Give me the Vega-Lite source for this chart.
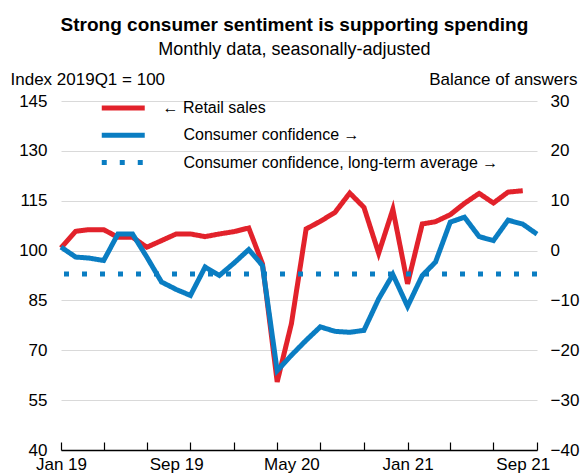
{
  "$schema": "https://vega.github.io/schema/vega-lite/v6.json",
  "width": 476,
  "height": 349,
  "autosize": {"type": "none"},
  "padding": {"left": 61, "top": 101, "right": 48, "bottom": 23},
  "background": "white",
  "config": {
    "font": "Liberation Sans",
    "view": {"stroke": null},
    "axis": {"labelColor": "black", "titleColor": "black", "titleFontWeight": "normal", "labelFont": "Liberation Sans", "titleFont": "Liberation Sans"},
    "legend": {"labelFont": "Liberation Sans", "labelColor": "black"}
  },
  "title": {
    "text": "Strong consumer sentiment is supporting spending",
    "subtitle": "Monthly data, seasonally-adjusted",
    "fontSize": 19,
    "fontWeight": "bold",
    "color": "black",
    "subtitleFontSize": 18,
    "subtitleColor": "black",
    "subtitleFont": "Liberation Sans",
    "subtitlePadding": 6,
    "anchor": "middle",
    "frame": "bounds",
    "offset": 11
  },
  "datasets": {
    "retail": [
      {"date": "2019-01-01", "series": "Retail sales", "value": 100.8},
      {"date": "2019-02-01", "series": "Retail sales", "value": 105.8},
      {"date": "2019-03-01", "series": "Retail sales", "value": 106.3},
      {"date": "2019-04-01", "series": "Retail sales", "value": 106.3},
      {"date": "2019-05-01", "series": "Retail sales", "value": 104},
      {"date": "2019-06-01", "series": "Retail sales", "value": 104},
      {"date": "2019-07-01", "series": "Retail sales", "value": 101},
      {"date": "2019-08-01", "series": "Retail sales", "value": 103},
      {"date": "2019-09-01", "series": "Retail sales", "value": 105},
      {"date": "2019-10-01", "series": "Retail sales", "value": 105},
      {"date": "2019-11-01", "series": "Retail sales", "value": 104.2},
      {"date": "2019-12-01", "series": "Retail sales", "value": 105},
      {"date": "2020-01-01", "series": "Retail sales", "value": 105.7},
      {"date": "2020-02-01", "series": "Retail sales", "value": 106.8},
      {"date": "2020-03-01", "series": "Retail sales", "value": 96},
      {"date": "2020-04-01", "series": "Retail sales", "value": 60.5},
      {"date": "2020-05-01", "series": "Retail sales", "value": 78},
      {"date": "2020-06-01", "series": "Retail sales", "value": 106.5},
      {"date": "2020-07-01", "series": "Retail sales", "value": 108.8},
      {"date": "2020-08-01", "series": "Retail sales", "value": 111.5},
      {"date": "2020-09-01", "series": "Retail sales", "value": 117.3},
      {"date": "2020-10-01", "series": "Retail sales", "value": 113},
      {"date": "2020-11-01", "series": "Retail sales", "value": 99.2},
      {"date": "2020-12-01", "series": "Retail sales", "value": 112.4},
      {"date": "2021-01-01", "series": "Retail sales", "value": 90},
      {"date": "2021-02-01", "series": "Retail sales", "value": 108},
      {"date": "2021-03-01", "series": "Retail sales", "value": 108.7},
      {"date": "2021-04-01", "series": "Retail sales", "value": 110.8},
      {"date": "2021-05-01", "series": "Retail sales", "value": 114.2},
      {"date": "2021-06-01", "series": "Retail sales", "value": 117.2},
      {"date": "2021-07-01", "series": "Retail sales", "value": 114.3},
      {"date": "2021-08-01", "series": "Retail sales", "value": 117.6},
      {"date": "2021-09-01", "series": "Retail sales", "value": 118}
    ],
    "confidence": [
      {"date": "2019-01-01", "series": "Consumer confidence", "value": 0.7},
      {"date": "2019-02-01", "series": "Consumer confidence", "value": -1.3},
      {"date": "2019-03-01", "series": "Consumer confidence", "value": -1.5},
      {"date": "2019-04-01", "series": "Consumer confidence", "value": -2},
      {"date": "2019-05-01", "series": "Consumer confidence", "value": 3.3},
      {"date": "2019-06-01", "series": "Consumer confidence", "value": 3.3},
      {"date": "2019-07-01", "series": "Consumer confidence", "value": -1.3},
      {"date": "2019-08-01", "series": "Consumer confidence", "value": -6.3},
      {"date": "2019-09-01", "series": "Consumer confidence", "value": -7.8},
      {"date": "2019-10-01", "series": "Consumer confidence", "value": -9},
      {"date": "2019-11-01", "series": "Consumer confidence", "value": -3.3},
      {"date": "2019-12-01", "series": "Consumer confidence", "value": -5},
      {"date": "2020-01-01", "series": "Consumer confidence", "value": -2.5},
      {"date": "2020-02-01", "series": "Consumer confidence", "value": 0.2},
      {"date": "2020-03-01", "series": "Consumer confidence", "value": -3},
      {"date": "2020-04-01", "series": "Consumer confidence", "value": -24.1},
      {"date": "2020-05-01", "series": "Consumer confidence", "value": -21},
      {"date": "2020-06-01", "series": "Consumer confidence", "value": -18},
      {"date": "2020-07-01", "series": "Consumer confidence", "value": -15.3},
      {"date": "2020-08-01", "series": "Consumer confidence", "value": -16.2},
      {"date": "2020-09-01", "series": "Consumer confidence", "value": -16.4},
      {"date": "2020-10-01", "series": "Consumer confidence", "value": -16},
      {"date": "2020-11-01", "series": "Consumer confidence", "value": -9.7},
      {"date": "2020-12-01", "series": "Consumer confidence", "value": -4.8},
      {"date": "2021-01-01", "series": "Consumer confidence", "value": -11.2},
      {"date": "2021-02-01", "series": "Consumer confidence", "value": -5},
      {"date": "2021-03-01", "series": "Consumer confidence", "value": -2.3},
      {"date": "2021-04-01", "series": "Consumer confidence", "value": 5.7},
      {"date": "2021-05-01", "series": "Consumer confidence", "value": 6.7},
      {"date": "2021-06-01", "series": "Consumer confidence", "value": 2.8},
      {"date": "2021-07-01", "series": "Consumer confidence", "value": 2},
      {"date": "2021-08-01", "series": "Consumer confidence", "value": 6.1},
      {"date": "2021-09-01", "series": "Consumer confidence", "value": 5.3},
      {"date": "2021-10-01", "series": "Consumer confidence", "value": 3.3}
    ],
    "average": [
      {"series": "Consumer confidence, long-term average", "value": -4.7}
    ]
  },
  "layer": [
    {
      "layer": [
        {
          "mark": {"type": "rule", "color": "black", "strokeWidth": 2.5},
          "encoding": {
            "y": {"datum": 100, "type": "quantitative", "scale": {"domain": [40, 145], "nice": false, "zero": false}}
          }
        },
        {
          "data": {"name": "retail"},
          "mark": {"type": "line", "strokeWidth": 5},
          "encoding": {
            "x": {
              "field": "date", "type": "temporal",
              "scale": {"type": "utc", "domain": [{"year": 2019, "month": 1, "date": 1, "utc": true}, {"year": 2021, "month": 10, "date": 1, "utc": true}]},
              "axis": {
                "orient": "bottom",
                "title": null, "labels": false, "grid": false,
                "ticks": true, "tickSize": -8, "tickColor": "black", "tickWidth": 1.2,
                "domain": true, "domainColor": "black", "domainWidth": 1.5,
                "values": [
                  {"year": 2019, "month": 1, "date": 1, "utc": true},
                  {"year": 2019, "month": 4, "date": 1, "utc": true},
                  {"year": 2019, "month": 7, "date": 1, "utc": true},
                  {"year": 2019, "month": 10, "date": 1, "utc": true},
                  {"year": 2020, "month": 1, "date": 1, "utc": true},
                  {"year": 2020, "month": 4, "date": 1, "utc": true},
                  {"year": 2020, "month": 7, "date": 1, "utc": true},
                  {"year": 2020, "month": 10, "date": 1, "utc": true},
                  {"year": 2021, "month": 1, "date": 1, "utc": true},
                  {"year": 2021, "month": 4, "date": 1, "utc": true},
                  {"year": 2021, "month": 7, "date": 1, "utc": true},
                  {"year": 2021, "month": 10, "date": 1, "utc": true}
                ]
              }
            },
            "y": {
              "field": "value", "type": "quantitative",
              "scale": {"domain": [40, 145], "nice": false, "zero": false},
              "axis": {
                "orient": "left", "values": [40, 55, 70, 85, 100, 115, 130, 145],
                "grid": true, "gridColor": "#d9d9d9", "gridWidth": 1.2,
                "domain": false, "ticks": false, "tickSize": 0, "labelPadding": 14,
                "labelFontSize": 17, "labelFont": "Liberation Sans",
                "title": "Index 2019Q1 = 100", "titleAngle": 0, "titleAlign": "left", "titleBaseline": "alphabetic",
                "titleX": -51, "titleY": -17, "titleFontSize": 17
              }
            },
            "color": {
              "field": "series", "type": "nominal",
              "scale": {"domain": ["Retail sales", "Consumer confidence", "Consumer confidence, long-term average"], "range": ["#e2222b", "#0a7dc2", "#0a7dc2"]},
              "legend": {
                "orient": "none", "legendX": 48.75, "legendY": -6.5, "title": null, "padding": 0,
                "symbolType": "M-2,0H2", "symbolSize": 462, "symbolStrokeWidth": 5, "symbolFillColor": "transparent",
                "labelFontSize": 16, "labelOffset": 25.75, "rowPadding": 3.3, "labelLimit": 500,
                "labelExpr": "datum.label == 'Retail sales' ? '← Retail sales' : '\\u200b\\u2007\\u2007\\u2009' + datum.label + ' →'"
              }
            },
            "strokeDash": {
              "field": "series", "type": "nominal",
              "scale": {"domain": ["Retail sales", "Consumer confidence", "Consumer confidence, long-term average"], "range": [[1, 0], [1, 0], [5, 13]]},
              "legend": {
                "orient": "none", "legendX": 48.75, "legendY": -6.5, "title": null, "padding": 0,
                "symbolType": "M-2,0H2", "symbolSize": 462, "symbolStrokeWidth": 5, "symbolFillColor": "transparent",
                "labelFontSize": 16, "labelOffset": 25.75, "rowPadding": 3.3, "labelLimit": 500,
                "labelExpr": "datum.label == 'Retail sales' ? '← Retail sales' : '\\u200b\\u2007\\u2007\\u2009' + datum.label + ' →'"
              }
            }
          }
        }
      ]
    },
    {
      "layer": [
        {
          "data": {"name": "average"},
          "mark": {"type": "rule", "strokeWidth": 5, "strokeCap": "butt"},
          "encoding": {
            "y": {"field": "value", "type": "quantitative", "scale": {"domain": [-40, 30], "nice": false, "zero": false}},
            "color": {"field": "series", "type": "nominal"},
            "strokeDash": {"field": "series", "type": "nominal"}
          }
        },
        {
          "data": {"name": "confidence"},
          "mark": {"type": "line", "strokeWidth": 5},
          "encoding": {
            "x": {
              "field": "date", "type": "temporal",
              "axis": {
                "orient": "bottom",
                "title": null, "ticks": false, "domain": false, "grid": false,
                "format": "%b %y", "labelFontSize": 17, "labelPadding": 6,
                "labelFlush": false, "labelOverlap": false, "labelBound": false,
                "values": [
                  {"year": 2019, "month": 1, "date": 1, "utc": true},
                  {"year": 2019, "month": 9, "date": 1, "utc": true},
                  {"year": 2020, "month": 5, "date": 1, "utc": true},
                  {"year": 2021, "month": 1, "date": 1, "utc": true},
                  {"year": 2021, "month": 9, "date": 1, "utc": true}
                ]
              }
            },
            "y": {
              "field": "value", "type": "quantitative",
              "scale": {"domain": [-40, 30], "nice": false, "zero": false},
              "axis": {
                "orient": "right", "values": [-40, -30, -20, -10, 0, 10, 20, 30],
                "grid": false, "domain": false, "ticks": false, "tickSize": 0, "labelPadding": 13,
                "labelFontSize": 17,
                "title": "Balance of answers", "titleAngle": 0, "titleAlign": "right", "titleBaseline": "alphabetic",
                "titleX": 40, "titleY": -17, "titleFontSize": 17
              }
            },
            "color": {"field": "series", "type": "nominal"},
            "strokeDash": {"field": "series", "type": "nominal"}
          }
        }
      ]
    }
  ],
  "resolve": {"scale": {"y": "independent"}, "axis": {"x": "independent"}}
}
